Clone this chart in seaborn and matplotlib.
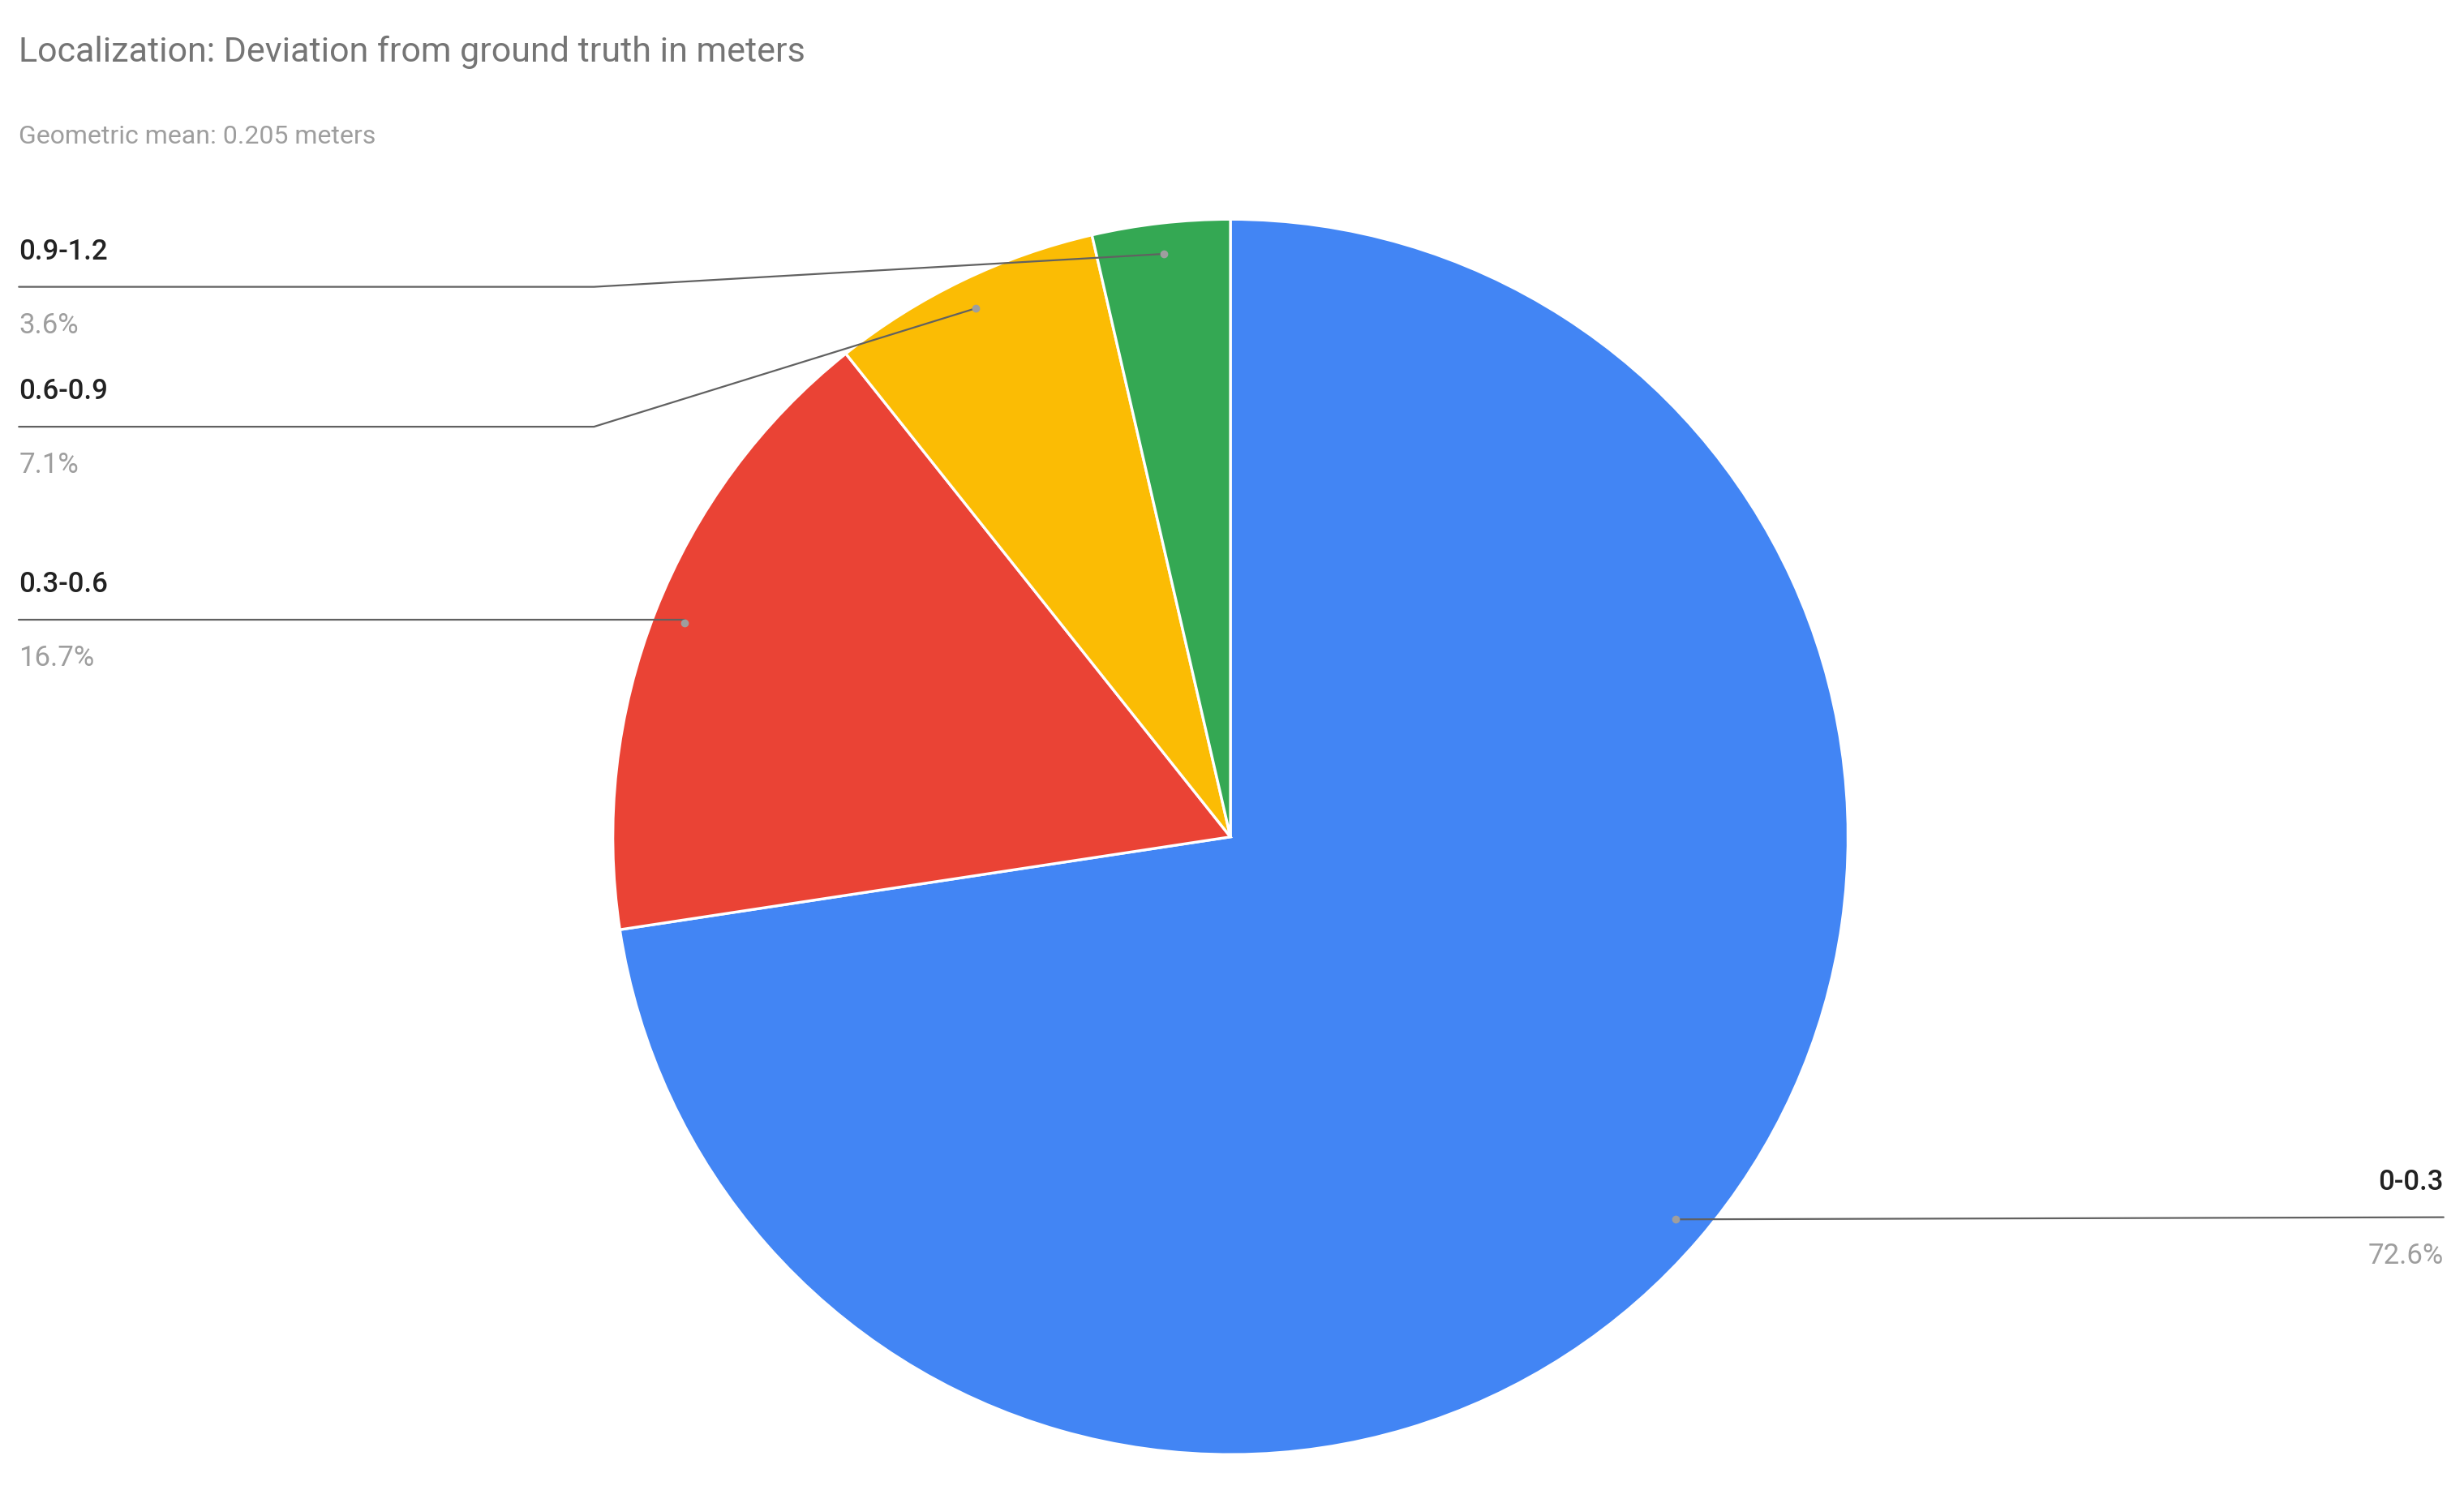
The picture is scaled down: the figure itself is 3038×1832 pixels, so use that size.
import numpy as np
import matplotlib
matplotlib.use("Agg")
import matplotlib.pyplot as plt
import seaborn as sns

# data
labels = ["0-0.3", "0.3-0.6", "0.6-0.9", "0.9-1.2"]
shares = [72.6, 16.7, 7.1, 3.6]
colors = ["#4285f4", "#ea4335", "#fbbc04", "#34a853"]

sns.set_theme(style="white")
plt.rcParams["font.family"] = ["Roboto", "DejaVu Sans"]

W, H = 1568, 946  # layout units (image px / 1.9375)
fig = plt.figure(figsize=(3038 / 200, 1833 / 200), dpi=200)
ax = fig.add_axes([0, 0, 1, 1])
ax.set_xlim(0, W)
ax.set_ylim(0, H)
ax.axis("off")

cx, cy, r = 783, H - 533, 393
wedges, _ = ax.pie(shares, colors=colors, startangle=90, counterclock=False,
                   center=(cx, cy), radius=r, frame=True,
                   wedgeprops=dict(edgecolor="white", linewidth=1.2))
ax.set_xlim(0, W)
ax.set_ylim(0, H)
ax.set_aspect("equal")
ax.axis("off")

fig.text(12 / W, 1 - 33 / H, "Localization: Deviation from ground truth in meters",
         fontsize=15.5, color="#757575", va="center", ha="left")
fig.text(12 / W, 1 - 87 / H, "Geometric mean: 0.205 meters",
         fontsize=11.5, color="#9e9e9e", va="center", ha="left")

# label line y (image coordinates) per slice, and side
line_y = {"0-0.3": 775, "0.3-0.6": 395, "0.6-0.9": 272, "0.9-1.2": 183}
for w, lab, val in zip(wedges, labels, shares):
    mid = np.deg2rad((w.theta1 + w.theta2) / 2)
    dx, dy = cx + 0.95 * r * np.cos(mid), cy + 0.95 * r * np.sin(mid)
    ly = H - line_y[lab]
    ax.plot(dx, dy, "o", color="#9e9e9e", markersize=2.5, zorder=5)
    if lab == "0-0.3":
        ax.plot([dx, 1555], [dy, ly], color="#616161", lw=0.8)
        x, ha = 1555, "right"
    else:
        knee = 378 if abs(dy - ly) > 3 else dx
        ax.plot([12, knee, dx], [ly, ly, dy], color="#616161", lw=0.8)
        x, ha = 12, "left"
    ax.text(x, ly + 23, lab, fontsize=12.5, color="#222222", fontweight="medium",
            ha=ha, va="center")
    ax.text(x, ly - 24, f"{val}%", fontsize=12.5, color="#9e9e9e", ha=ha, va="center")

fig.savefig("out.png", dpi=200, facecolor="white")
